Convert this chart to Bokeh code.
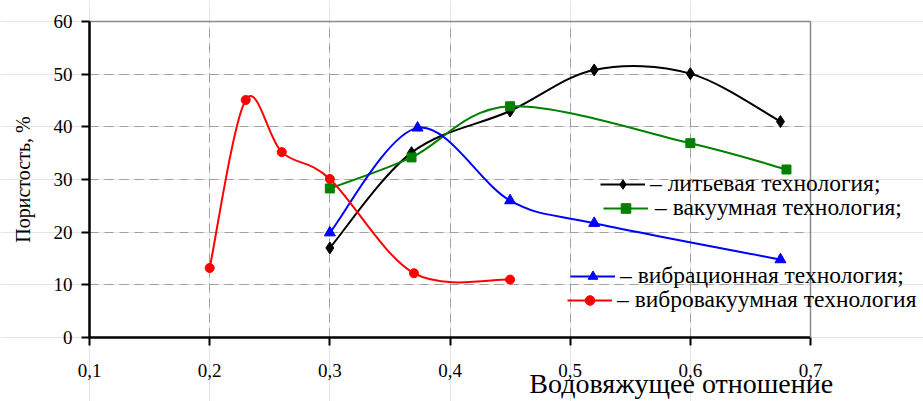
from bokeh.plotting import figure
from bokeh.models import (Range1d, FixedTicker, Legend, LegendItem, Label,
                          LinearAxis, Grid)
from bokeh.embed import file_html
from bokeh.resources import INLINE

# ---- data ----
x_lit = [0.30, 0.368, 0.45, 0.52, 0.60, 0.675]
y_lit = [17.0, 35.1, 43.0, 50.8, 50.1, 41.0]

x_vak = [0.30, 0.368, 0.45, 0.60, 0.68]
y_vak = [28.3, 34.2, 43.9, 36.9, 31.9]

x_vib = [0.30, 0.373, 0.45, 0.52, 0.675]
y_vib = [19.9, 39.8, 26.0, 21.7, 14.8]

x_vv = [0.20, 0.230, 0.26, 0.30, 0.37, 0.45]
y_vv = [13.2, 45.1, 35.2, 30.1, 12.2, 11.0]

x_ticks = [0.1, 0.2, 0.3, 0.4, 0.5, 0.6, 0.7]
x_tick_labels = ["0,1", "0,2", "0,3", "0,4", "0,5", "0,6", "0,7"]
y_ticks = [0, 10, 20, 30, 40, 50, 60]

names = ["– литьевая технология;", "– вакуумная технология;",
         "– вибрационная технология;", "– вибровакуумная технология"]

FONT = "Liberation Serif"

# plot box (data limits of the drawn axes)
X0, X1 = 0.1, 0.7
Y0, Y1 = 0, 60


def smooth(xs, ys):
    """Excel-like smoothed line: cubic Bezier control points (Catmull-Rom)."""
    n = len(xs)
    out = dict(x0=[], y0=[], x1=[], y1=[], cx0=[], cy0=[], cx1=[], cy1=[])
    for i in range(n - 1):
        pm = i - 1 if i > 0 else i
        pp = i + 2 if i + 2 < n else i + 1
        out["x0"].append(xs[i]); out["y0"].append(ys[i])
        out["x1"].append(xs[i + 1]); out["y1"].append(ys[i + 1])
        out["cx0"].append(xs[i] + (xs[i + 1] - xs[pm]) / 6)
        out["cy0"].append(ys[i] + (ys[i + 1] - ys[pm]) / 6)
        out["cx1"].append(xs[i + 1] - (xs[pp] - xs[i]) / 6)
        out["cy1"].append(ys[i + 1] - (ys[pp] - ys[i]) / 6)
    return out


W, H = 923, 401
# screen margins of the plot box inside the canvas
ML, MR, MT, MB = 89, 113, 21, 64
sx = (W - ML - MR) / (X1 - X0)
sy = (H - MT - MB) / (Y1 - Y0)

p = figure(width=W, height=H,
           x_range=Range1d(X0 - ML / sx, X1 + MR / sx),
           y_range=Range1d(Y0 - MB / sy, Y1 + MT / sy),
           x_axis_location=None, y_axis_location=None,
           output_backend="svg", toolbar_location=None,
           min_border_left=0, min_border_right=0,
           min_border_top=0, min_border_bottom=0)

p.background_fill_color = "white"
p.border_fill_color = "white"
p.outline_line_color = None

# grids (dashed, limited to the plot box)
for dim, ticks, cb in ((0, x_ticks[1:-1], (Y0, Y1)), (1, y_ticks[1:-1], (X0, X1))):
    g = Grid(dimension=dim, ticker=FixedTicker(ticks=ticks), cross_bounds=cb,
             grid_line_color="#a0a0a0", grid_line_dash="9 6", grid_line_width=1)
    p.add_layout(g)

# gray frame lines (top / right)
top = LinearAxis(fixed_location=Y1, bounds=(X0, X1), ticker=FixedTicker(ticks=[]),
                 axis_line_color="#8a8a8a", axis_line_width=1.5,
                 major_tick_line_color=None, minor_tick_line_color=None,
                 major_label_text_alpha=0)
right = LinearAxis(fixed_location=X1, bounds=(Y0, Y1), ticker=FixedTicker(ticks=[]),
                   axis_line_color="#8a8a8a", axis_line_width=1.5,
                   major_tick_line_color=None, minor_tick_line_color=None,
                   major_label_text_alpha=0)
p.add_layout(top, "above")
p.add_layout(right, "right")

# main axes
xaxis = LinearAxis(fixed_location=Y0, bounds=(X0, X1), ticker=FixedTicker(ticks=x_ticks),
                   major_label_overrides={t: l for t, l in zip(x_ticks, x_tick_labels)})
yaxis = LinearAxis(fixed_location=X0, bounds=(Y0, Y1), ticker=FixedTicker(ticks=y_ticks))
for ax in (xaxis, yaxis):
    ax.axis_line_color = "black"
    ax.axis_line_width = 2.5
    ax.major_tick_line_color = "black"
    ax.major_tick_line_width = 2
    ax.major_tick_out = 8
    ax.major_tick_in = 0
    ax.minor_tick_line_color = None
    ax.major_label_text_font = FONT
    ax.major_label_text_font_size = "19px"
    ax.major_label_text_color = "black"
xaxis.major_label_standoff = 18
yaxis.major_label_standoff = 9

yaxis.axis_label = "Пористость, %"
yaxis.axis_label_text_font = FONT
yaxis.axis_label_text_font_size = "20px"
yaxis.axis_label_text_font_style = "normal"
yaxis.axis_label_text_color = "black"
yaxis.axis_label_standoff = 17
p.add_layout(xaxis, "below")
p.add_layout(yaxis, "left")

# series
series = [
    (x_lit, y_lit, "black", "diamond", 12),
    (x_vak, y_vak, "#008000", "square", 9),
    (x_vib, y_vib, "#0000ff", "triangle", 11),
    (x_vv, y_vv, "#ff0000", "circle", 9),
]
renderers = []
for xs, ys, col, mk, sz in series:
    b = p.bezier(line_color=col, line_width=2, **smooth(xs, ys))
    s = p.scatter(xs, ys, marker=mk, size=sz,
                  fill_color=col, line_color=col)
    renderers.append((b, s))

# legends (placed individually, like in the reference)
leg_pos = [(600, 204), (603, 180), (570, 112), (567, 88)]
leg_standoff = [5, 7, 5, 5]
for (b, s), name, loc, so in zip(renderers, names, leg_pos, leg_standoff):
    lg = Legend(items=[LegendItem(label=name, renderers=[b, s])],
                location=loc, padding=0, margin=0, spacing=0,
                glyph_width=45, glyph_height=24, label_height=24,
                label_standoff=so,
                border_line_alpha=0, background_fill_alpha=0,
                label_text_font=FONT, label_text_font_size="23.5px",
                label_text_color="black")
    p.add_layout(lg)

# x-axis title
p.add_layout(Label(x=0.466, y=-8.8, text="Водовяжущее отношение",
                   text_font=FONT, text_font_size="28px",
                   text_color="black", text_baseline="alphabetic",
                   text_align="left"))

open("out.html", "w").write(file_html(p, INLINE))
